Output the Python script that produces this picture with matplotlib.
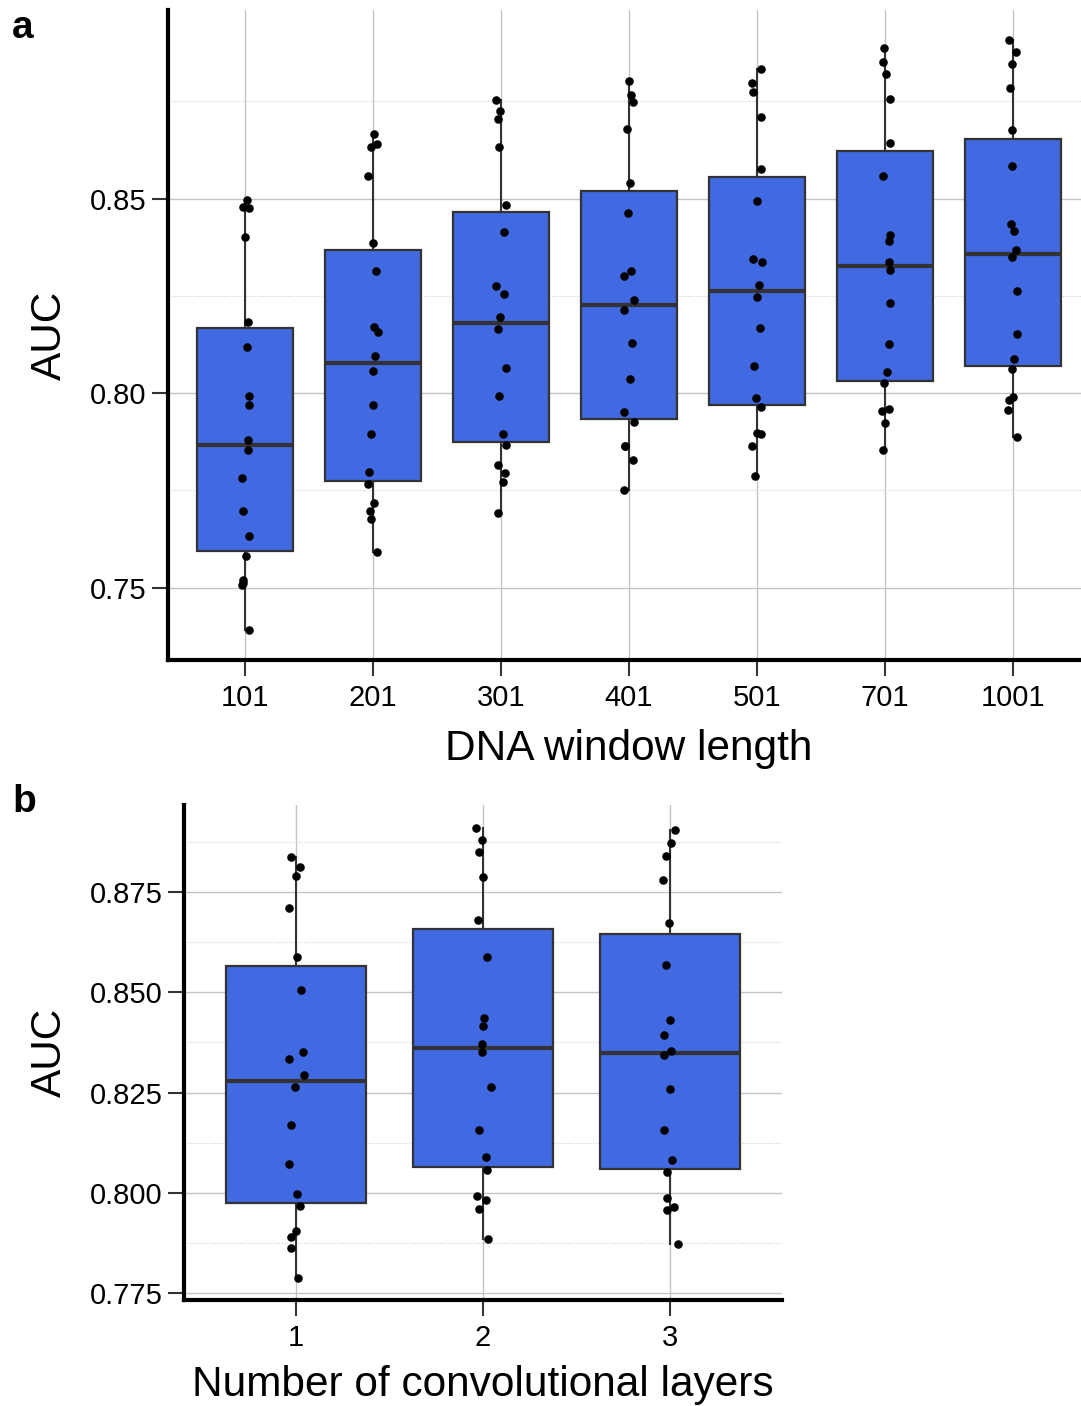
import matplotlib
matplotlib.use('Agg')
import matplotlib.pyplot as plt
import numpy as np
from matplotlib.ticker import FixedLocator

plt.rcParams['font.family'] = ['Liberation Sans', 'DejaVu Sans']

# ---------------- data: panel a (DNA window length) ----------------
window_labels = ['101', '201', '301', '401', '501', '701', '1001']

auc_w101 = [0.8496, 0.8478, 0.8475, 0.8401, 0.8184, 0.8119, 0.7993, 0.7969, 0.7880,
            0.7854, 0.7783, 0.7698, 0.7633, 0.7581, 0.7519, 0.7508, 0.7512, 0.7390]
auc_w201 = [0.8667, 0.8641, 0.8633, 0.8557, 0.8386, 0.8315, 0.8170, 0.8157, 0.8096,
            0.8058, 0.7969, 0.7894, 0.7798, 0.7767, 0.7717, 0.7698, 0.7676, 0.7591]
auc_w301 = [0.8754, 0.8726, 0.8704, 0.8632, 0.8483, 0.8414, 0.8276, 0.8255, 0.8195,
            0.8165, 0.8065, 0.7993, 0.7894, 0.7867, 0.7816, 0.7795, 0.7772, 0.7693]
auc_w401 = [0.8802, 0.8767, 0.8749, 0.8679, 0.8539, 0.8463, 0.8315, 0.8302, 0.8239,
            0.8214, 0.8128, 0.8037, 0.7952, 0.7926, 0.7865, 0.7863, 0.7828, 0.7750]
auc_w501 = [0.8832, 0.8798, 0.8773, 0.8710, 0.8577, 0.8494, 0.8345, 0.8336, 0.8278,
            0.8248, 0.8168, 0.8071, 0.7987, 0.7965, 0.7898, 0.7895, 0.7865, 0.7787]
auc_w701 = [0.8888, 0.8851, 0.8820, 0.8756, 0.8643, 0.8557, 0.8407, 0.8392, 0.8338,
            0.8316, 0.8232, 0.8127, 0.8054, 0.8025, 0.7958, 0.7955, 0.7924, 0.7853]
auc_w1001 = [0.8909, 0.8878, 0.8846, 0.8785, 0.8676, 0.8584, 0.8434, 0.8418, 0.8368,
             0.8349, 0.8263, 0.8153, 0.8089, 0.8063, 0.7991, 0.7982, 0.7957, 0.7887]

# horizontal jitter of each point (category units)
jit_w101 = [0.016, -0.013, 0.034, 0.003, 0.026, 0.018, 0.031, 0.031, 0.026,
            0.021, -0.026, -0.013, 0.031, 0.013, -0.013, -0.021, -0.018, 0.031]
jit_w201 = [0.005, 0.036, -0.018, -0.036, -0.003, 0.023, 0.010, 0.042, 0.018,
            -0.003, -0.003, -0.013, -0.031, -0.036, 0.008, -0.023, -0.013, 0.031]
jit_w301 = [-0.036, -0.008, -0.023, -0.018, 0.042, 0.026, -0.039, 0.026, -0.008,
            -0.026, 0.042, -0.018, 0.013, 0.039, -0.021, 0.029, 0.013, -0.023]
jit_w401 = [0.000, 0.018, 0.034, -0.013, 0.008, -0.005, 0.018, -0.036, 0.036,
            -0.036, 0.021, 0.008, -0.036, 0.036, -0.031, -0.029, 0.029, -0.036]
jit_w501 = [0.031, -0.039, -0.031, 0.031, 0.029, 0.003, -0.034, 0.036, 0.018,
            -0.003, 0.021, -0.026, -0.005, 0.034, -0.003, 0.029, -0.039, -0.018]
jit_w701 = [-0.010, -0.016, 0.008, 0.036, 0.042, -0.013, 0.036, 0.034, 0.029,
            0.039, 0.036, 0.031, 0.018, -0.010, 0.029, -0.026, -0.003, -0.018]
jit_w1001 = [-0.029, 0.021, -0.008, -0.023, -0.008, -0.013, -0.016, 0.005, 0.026,
             -0.008, 0.029, 0.031, 0.008, -0.008, -0.005, -0.029, -0.039, 0.031]

# ---------------- data: panel b (number of conv layers) ----------------
layer_labels = ['1', '2', '3']

auc_l1 = [0.8837, 0.8812, 0.8789, 0.8711, 0.8587, 0.8506, 0.8352, 0.8334, 0.8294,
          0.8263, 0.8168, 0.8072, 0.7997, 0.7967, 0.7906, 0.7891, 0.7863, 0.7789]
auc_l2 = [0.8911, 0.8880, 0.8850, 0.8787, 0.8681, 0.8587, 0.8435, 0.8416, 0.8372,
          0.8352, 0.8263, 0.8156, 0.8089, 0.8058, 0.7992, 0.7983, 0.7960, 0.7886]
auc_l3 = [0.8904, 0.8872, 0.8841, 0.8779, 0.8672, 0.8569, 0.8431, 0.8394, 0.8353,
          0.8344, 0.8260, 0.8156, 0.8082, 0.8053, 0.7987, 0.7965, 0.7958, 0.7873]

jit_l1 = [-0.025, 0.019, 0.000, -0.036, 0.005, 0.027, 0.038, -0.038, 0.041,
          -0.008, -0.030, -0.036, 0.005, 0.022, -0.003, -0.027, -0.025, 0.011]
jit_l2 = [-0.036, -0.005, -0.022, 0.000, -0.025, 0.022, 0.008, 0.000, -0.008,
          -0.005, 0.044, -0.019, 0.016, 0.019, -0.030, 0.014, -0.019, 0.027]
jit_l3 = [0.030, 0.008, -0.019, -0.036, -0.005, -0.022, 0.000, -0.030, 0.005,
          -0.030, 0.003, -0.030, 0.011, -0.014, -0.016, 0.022, -0.014, 0.041]

window_data = [auc_w101, auc_w201, auc_w301, auc_w401, auc_w501, auc_w701, auc_w1001]
window_jit = [jit_w101, jit_w201, jit_w301, jit_w401, jit_w501, jit_w701, jit_w1001]
layer_data = [auc_l1, auc_l2, auc_l3]
layer_jit = [jit_l1, jit_l2, jit_l3]

window_yticks = [0.75, 0.80, 0.85]
window_yminor = [0.775, 0.825, 0.875]
window_yticklabels = ['0.75', '0.80', '0.85']
layer_yticks = [0.775, 0.800, 0.825, 0.850, 0.875]
layer_yminor = [0.7875, 0.8125, 0.8375, 0.8625, 0.8875]
layer_yticklabels = ['0.775', '0.800', '0.825', '0.850', '0.875']

# ---------------- styling ----------------
W, H = 1081, 1406
DPI = 100
BOX_FILL = '#4169E1'
EDGE = '#333333'
MAJOR_GRID = '#C4C4C4'
MINOR_GRID = '#D2D2D2'

fig = plt.figure(figsize=(W / DPI, H / DPI), dpi=DPI)


def panel(rect, data, jit, labels, major, minor, ylabels, xlabel, xlabelpad):
    ax = fig.add_axes(rect)
    n = len(data)
    pos = np.arange(1, n + 1)
    ax.boxplot(data, positions=pos, widths=0.75, whis=1.5, showfliers=False,
               showcaps=False, patch_artist=True, manage_ticks=False,
               boxprops=dict(facecolor=BOX_FILL, edgecolor=EDGE, linewidth=1.6),
               whiskerprops=dict(color=EDGE, linewidth=1.5),
               medianprops=dict(color=EDGE, linewidth=3.0),
               zorder=2)
    for i, (vals, dj) in enumerate(zip(data, jit)):
        ax.scatter(pos[i] + np.asarray(dj), vals, s=38, color='black',
                   linewidths=0, zorder=4)
    allv = np.concatenate([np.asarray(d) for d in data])
    lo, hi = allv.min(), allv.max()
    pad = 0.05 * (hi - lo)
    ax.set_ylim(lo - pad, hi + pad)
    ax.set_xlim(0.4, n + 0.6)
    ax.set_xticks(pos)
    ax.set_xticklabels(labels)
    ax.yaxis.set_major_locator(FixedLocator(major))
    ax.yaxis.set_minor_locator(FixedLocator(minor))
    ax.set_yticklabels(ylabels)
    ax.set_axisbelow(True)
    ax.grid(True, which='major', axis='both', color=MAJOR_GRID, linewidth=1.0)
    ax.grid(True, which='minor', axis='y', color=MINOR_GRID, linewidth=0.8,
            linestyle=(0, (1, 1.5)))
    for s in ('top', 'right'):
        ax.spines[s].set_visible(False)
    for s in ('left', 'bottom'):
        ax.spines[s].set_linewidth(3.0)
        ax.spines[s].set_color('black')
        ax.spines[s].set_zorder(5)
    ax.tick_params(axis='both', which='major', direction='out', length=11.5,
                   width=1.5, color=EDGE, labelsize=21, labelcolor='black',
                   pad=4)
    ax.tick_params(axis='x', which='major', pad=6)
    ax.tick_params(axis='y', which='minor', length=0)
    ax.set_xlabel(xlabel, fontsize=30.5, labelpad=xlabelpad)
    ax.set_ylabel('AUC', fontsize=30.5, labelpad=14)
    return ax


axa = panel([168 / W, 1 - 660 / H, 922 / W, 650 / H], window_data, window_jit,
            window_labels, window_yticks, window_yminor, window_yticklabels,
            'DNA window length', 12)

axb = panel([184 / W, 1 - 1300 / H, 598 / W, 495 / H], layer_data, layer_jit,
            layer_labels, layer_yticks, layer_yminor, layer_yticklabels,
            'Number of convolutional layers', 9)

fig.text(12 / W, 1 - 38 / H, 'a', fontsize=28, fontweight='bold', va='baseline')
fig.text(12 / W, 1 - 812 / H, 'b', fontsize=28, fontweight='bold', va='baseline')

fig.savefig('out.png', dpi=DPI)
